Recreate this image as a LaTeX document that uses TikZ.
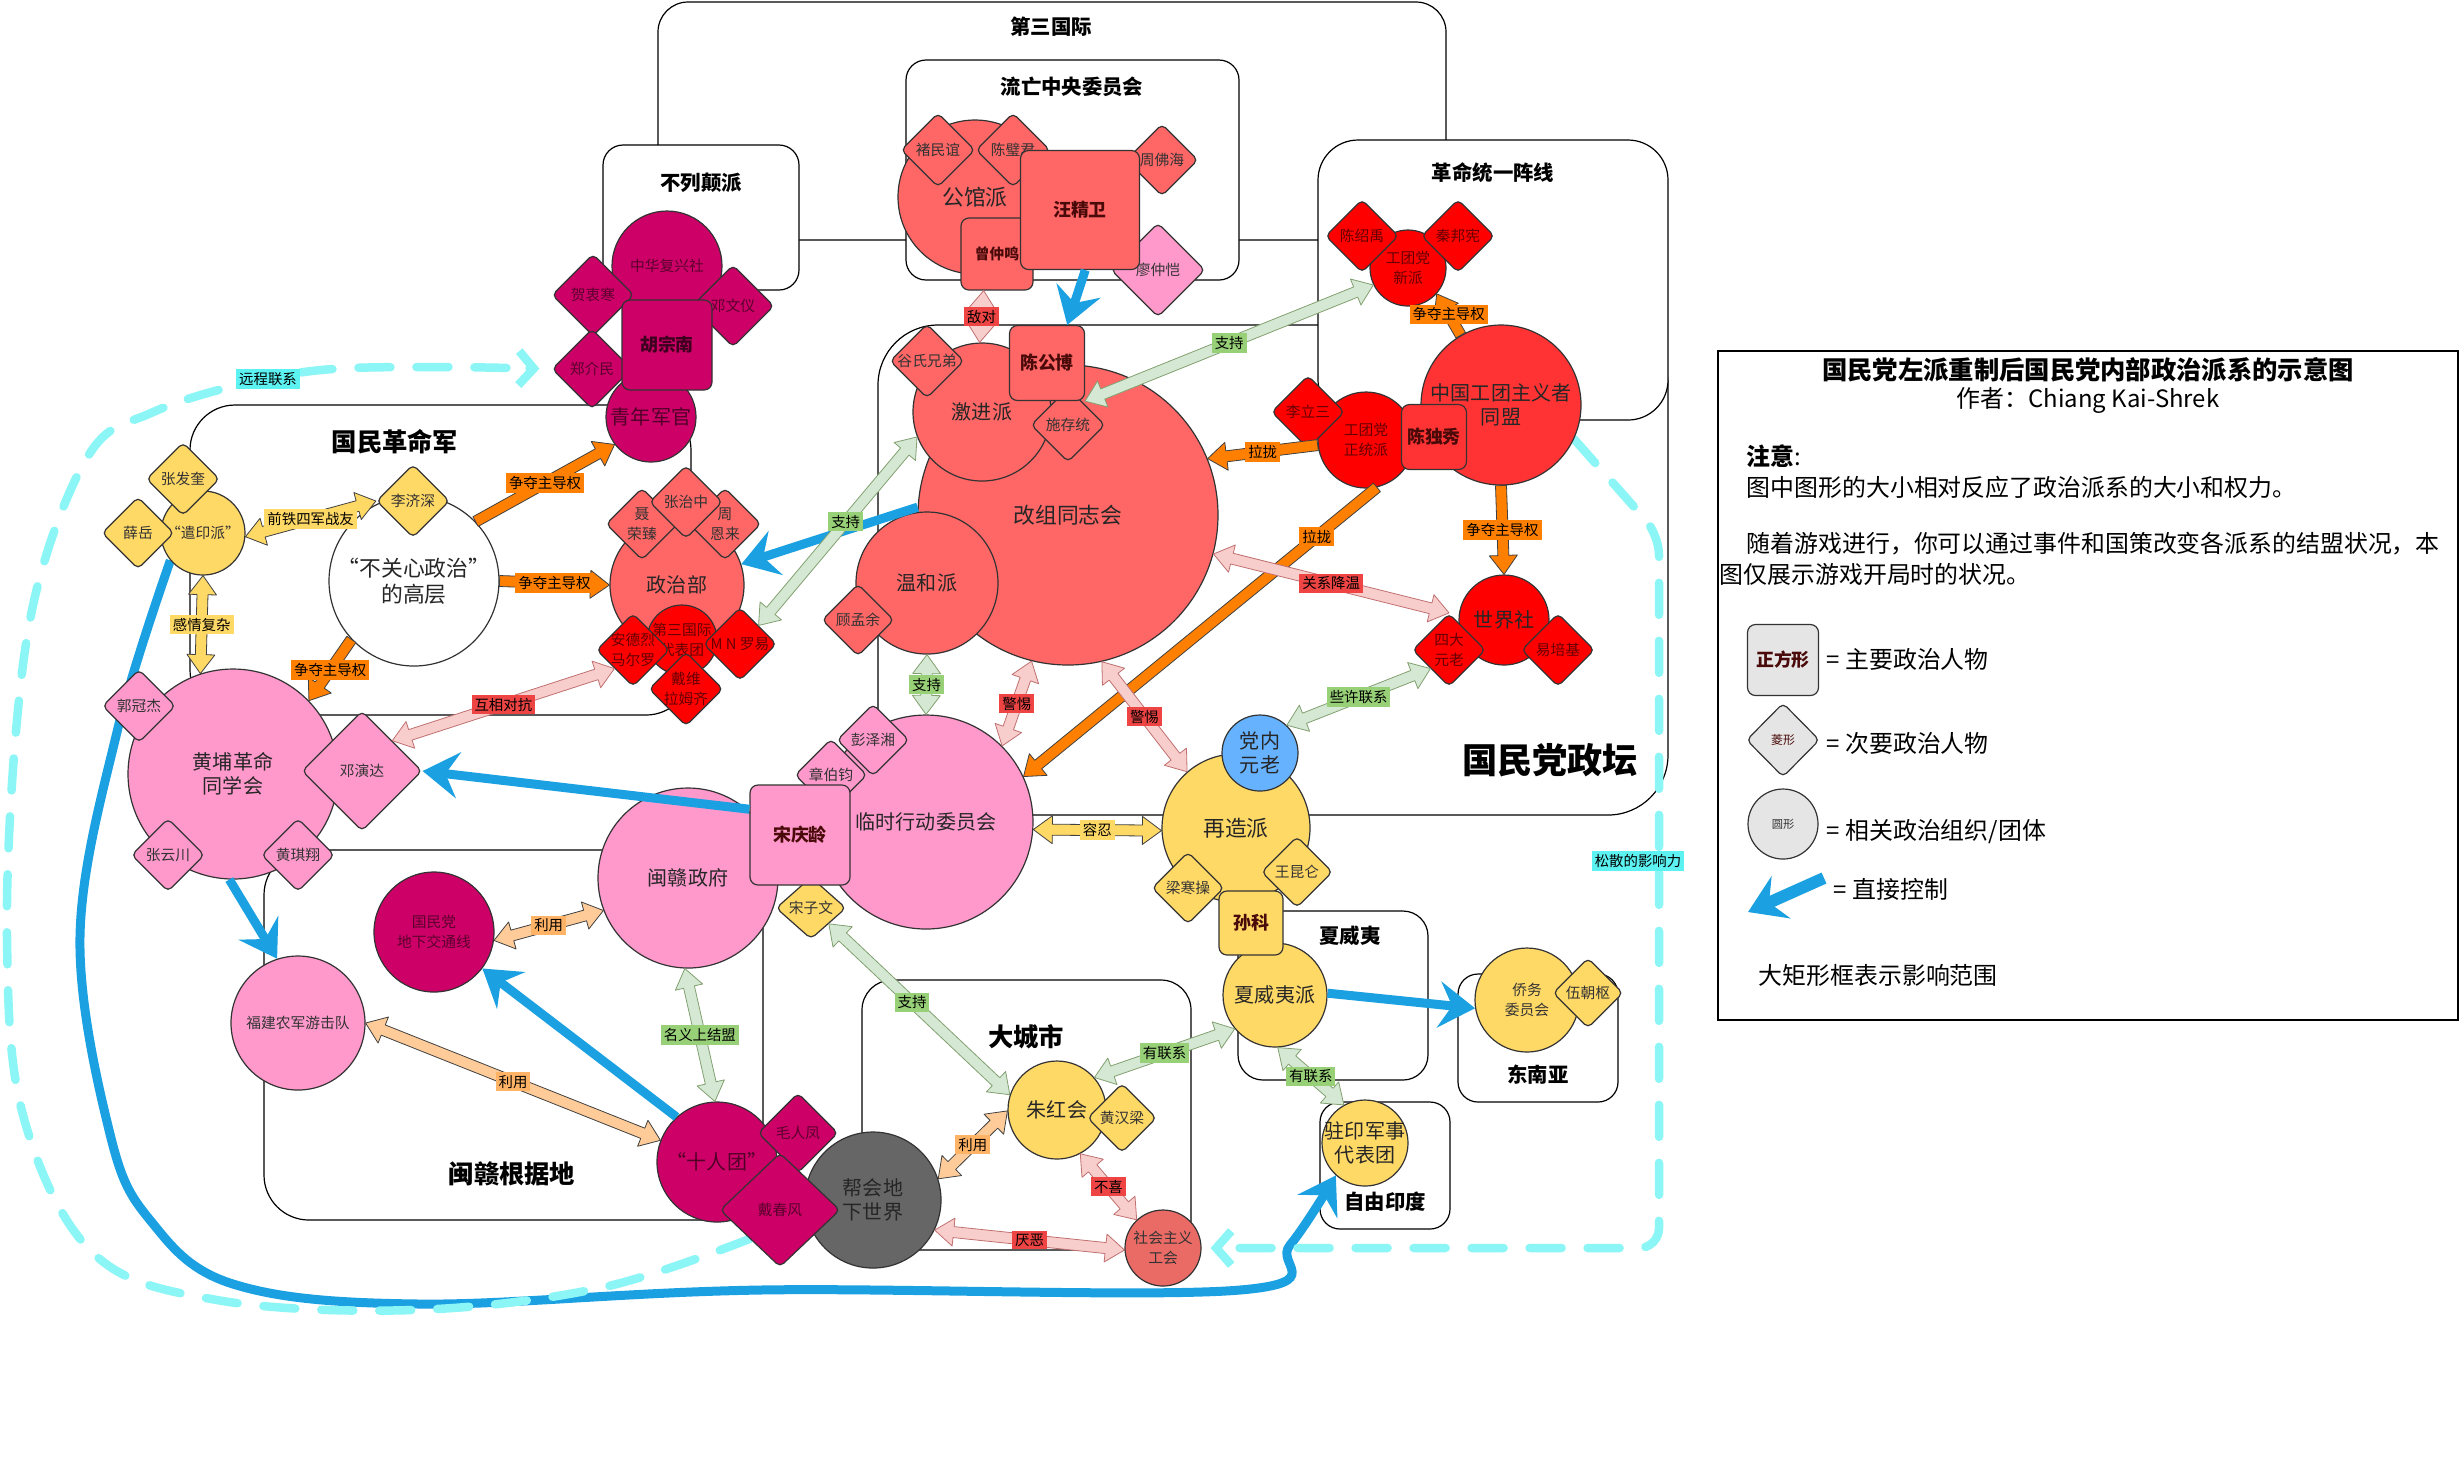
\documentclass[tikz,border=0pt]{standalone}
\usepackage{fontspec}
\setmainfont{Noto Sans CJK SC}
\usetikzlibrary{arrows.meta, calc, shapes.geometric, positioning}
\pgfdeclarelayer{zones}
\pgfdeclarelayer{curves}
\pgfsetlayers{zones,curves,main}

\definecolor{cSal}{HTML}{FF6666}
\definecolor{cRed}{HTML}{FF0000}
\definecolor{cRedB}{HTML}{FF3333}
\definecolor{cPink}{HTML}{FF99CC}
\definecolor{cCrim}{HTML}{CC0066}
\definecolor{cYel}{HTML}{FFD966}
\definecolor{cBlu}{HTML}{66B2FF}
\definecolor{cGry}{HTML}{666666}
\definecolor{cGh}{HTML}{EA6B66}
\definecolor{cDk}{HTML}{4A0A0A}
\definecolor{cCtl}{HTML}{1BA1E2}
\definecolor{cCyanL}{HTML}{8CF6F6}
\definecolor{lbCy}{HTML}{5CF2F2}
\definecolor{aOr}{HTML}{FF8000}
\definecolor{aGr}{HTML}{D5E8D4}
\definecolor{aGrD}{HTML}{82A070}
\definecolor{aPk}{HTML}{F8CECC}
\definecolor{aPkD}{HTML}{C07070}
\definecolor{aLo}{HTML}{FFCC99}
\definecolor{lbGr}{HTML}{97D077}
\definecolor{lbRd}{HTML}{EE4444}
\definecolor{lbLo}{HTML}{FFB366}

\newcommand\fzA{\fontsize{4.2}{5.7}\selectfont}
\newcommand\fzB{\fontsize{5.7}{6.9}\selectfont}
\newcommand\fzC{\fontsize{6.2}{7.4}\selectfont}
\newcommand\fzS{\fontsize{5.1}{6}\selectfont\bfseries}
\newcommand\fzL{\fontsize{4.1}{5}\selectfont}
\newcommand\fzT{\fontsize{5.8}{7}\selectfont\bfseries}
\newcommand\fzTT{\fontsize{7.2}{8.6}\selectfont\bfseries}
\newcommand\fzBig{\fontsize{10}{12}\selectfont\bfseries}
\newcommand\fzG{\fontsize{6.8}{8.5}\selectfont}

% wide hollow arrows
\newcommand\fxw{0.55mm}
\newcommand\fxh{1.4mm}
\newcommand\fxl{1.9mm}
\newcommand\flexab[3]{%
  \path #2 coordinate (fa) #3 coordinate (fb);
  \path ($(fa)!\fxl!(fb)$) coordinate (ca) ($(fb)!\fxl!(fa)$) coordinate (cb);
  \filldraw[#1] (fa) -- ($(ca)!\fxh!90:(fb)$) -- ($(ca)!\fxw!90:(fb)$)
    -- ($(cb)!\fxw!90:(fb)$) -- ($(cb)!\fxh!90:(fb)$) -- (fb)
    -- ($(cb)!\fxh!-90:(fb)$) -- ($(cb)!\fxw!-90:(fb)$)
    -- ($(ca)!\fxw!-90:(fb)$) -- ($(ca)!\fxh!-90:(fb)$) -- cycle;}
\newcommand\flexa[3]{%
  \path #2 coordinate (fa) #3 coordinate (fb);
  \path ($(fb)!\fxl!(fa)$) coordinate (cb);
  \filldraw[#1] ($(fa)!\fxw!90:(fb)$) -- ($(cb)!\fxw!90:(fb)$)
    -- ($(cb)!\fxh!90:(fb)$) -- (fb) -- ($(cb)!\fxh!-90:(fb)$)
    -- ($(cb)!\fxw!-90:(fb)$) -- ($(fa)!\fxw!-90:(fb)$) -- cycle;}

\begin{document}
\begin{tikzpicture}[x=0.1mm, y=-0.1mm,
  zone/.style={draw=black, line width=0.12mm, fill=white, rounded corners=#1},
  nd/.style={draw=black!80, line width=0.12mm, inner sep=0pt},
  org/.style 2 args={nd, circle, minimum size=#1*0.2mm, fill=#2},
  ppl/.style 2 args={nd, diamond, rounded corners=0.5mm, minimum width=#1*0.1mm, minimum height=#1*0.1mm, fill=#2},
  boss/.style 2 args={nd, rectangle, rounded corners=0.8mm, minimum size=#1*0.1mm, fill=#2},
  la/.style={align=center, inner sep=0pt, font=\fzA, text=#1}, la/.default={black!80},
  lb/.style={align=center, inner sep=0pt, font=\fzB, text=#1}, lb/.default={black!85},
  lc/.style={align=center, inner sep=0pt, font=\fzC, text=#1}, lc/.default={black!85},
  lq/.style={align=center, inner sep=0pt, font=\fzS, text=#1}, lq/.default={cDk},
  ttl/.style={font=\fzT},
  lbl/.style={inner sep=0.3mm, font=\fzL, text=black, fill=#1},
  lgx/.style={font=\fzG, anchor=west, inner sep=0pt},
  fo/.style={fill=aOr, draw=black!75, line width=0.08mm, line join=round},
  fg/.style={fill=aGr, draw=aGrD, line width=0.08mm, line join=round},
  fp/.style={fill=aPk, draw=aPkD, line width=0.08mm, line join=round},
  fy/.style={fill=cYel, draw=black!75, line width=0.08mm, line join=round},
  fl/.style={fill=aLo, draw=black!75, line width=0.08mm, line join=round},
  ctl/.style={draw=cCtl, line width=0.9mm, -{Stealth[length=3.6mm,width=4.6mm,inset=1.3mm]}},
  rmt/.style={draw=cCyanL, line width=0.85mm, dash pattern=on 3.2mm off 2.6mm, line cap=round, -{Straight Barb[length=1.5mm,width=3.4mm]}}]

% zones
\begin{pgfonlayer}{zones}
\fill[white] (0,0) rectangle (2460,1478);
\draw[zone=3mm] (658,2) rectangle (1446,240);
\draw[zone=2mm] (603,145) rectangle (799,290);
\draw[zone=2mm] (906,60) rectangle (1239,280);
\draw[zone=6mm] (878,325) rectangle (1668,815);
\draw[zone=4mm] (1318,140) rectangle (1668,420);
\draw[zone=4.5mm] (190,405) rectangle (691,715);
\draw[zone=4.5mm] (264,850) rectangle (763,1220);
\draw[zone=3mm] (862,980) rectangle (1191,1250);
\draw[zone=2.5mm] (1238,911) rectangle (1428,1080);
\draw[zone=2mm] (1458,974) rectangle (1618,1102);
\draw[zone=2mm] (1320,1102) rectangle (1450,1229);
\draw[line width=0.12mm] (1718,351) rectangle (2458,1020);
\end{pgfonlayer}
\useasboundingbox (0,0) rectangle (2460,1478);

\node[ttl] (t3gj) at (1051,27) {第三国际};
\node[ttl] (tlw) at (1072,87) {流亡中央委员会};
\node[ttl] (tbl) at (701,183) {不列颠派};
\node[ttl] (tgm) at (1493,173) {革命统一阵线};
\node[font=\fzTT] (tgmj) at (395,442) {国民革命军};
\node[font=\fzTT] (tmg) at (512,1174) {闽赣根据地};
\node[font=\fzTT] (tdc) at (1026,1037) {大城市};
\node[ttl] (txw) at (1350,936) {夏威夷};
\node[ttl] (tdn) at (1538,1075) {东南亚};
\node[ttl] (tzy) at (1385,1202) {自由印度};
\node[font=\fzBig] (tgd) at (1550,760) {国民党政坛};

% 流亡中央委员会
\node[org={77}{cSal}, label={[lc]center:公馆派}] (gg) at (975,197) {};
\node[ppl={74}{cSal}, label={[la]center:褚民谊}] (cmy) at (938,150) {};
\node[ppl={74}{cSal}, label={[la]center:陈璧君}] (cbj) at (1013,150) {};
\node[ppl={72}{cSal}, label={[la]center:周佛海}] (zfh) at (1162,160) {};
\node[ppl={94}{cPink}, label={[la]center:廖仲恺}] (lzk) at (1158,270) {};
\node[boss={72}{cSal}, label={[la=cDk, font=\fzA\bfseries]center:曾仲鸣}] (zzm) at (997,254) {};
\node[boss={119}{cSal}, label={[lq]center:汪精卫}] (wjw) at (1080,210) {};

% 不列颠派
\node[org={55}{cCrim}, label={[la=cCrim!45!black]center:中华复兴社}] (fx) at (667,266) {};
\node[org={45}{cCrim}, label={[lb=cCrim!40!black]center:青年军官}] (qn) at (651,417) {};
\node[ppl={82}{cCrim}, label={[la=cCrim!45!black]center:贺衷寒}] (hzh) at (593,295) {};
\node[ppl={80}{cCrim}, label={[la=cCrim!45!black]center:郑介民}] (zjm) at (592,369) {};
\node[ppl={82}{cCrim}, label={[la=cCrim!45!black]center:邓文仪}] (dwy) at (733,306) {};
\node[boss={90}{cCrim}, label={[lq=cCrim!30!black]center:胡宗南}] (hzn) at (667,345) {};

% 政治部
\node[org={67}{cSal}, label={[lb]center:政治部}] (zz) at (677,585) {};
\node[ppl={72}{cSal}, label={[la]center:聂\\荣臻}] (nrz) at (642,524) {};
\node[ppl={72}{cSal}, label={[la]center:周\\恩来}] (zel) at (725,524) {};
\node[ppl={73}{cSal}, label={[la]center:张治中}] (zzz) at (686,502) {};
\node[org={35}{cRed}, label={[la=cRed!40!black]center:第三国际\\代表团}] (dsg) at (682,640) {};
\node[ppl={73}{cRed}, label={[la=cRed!40!black]center:安德烈\\马尔罗}] (adl) at (633,650) {};
\node[ppl={73}{cRed}, label={[la=cRed!40!black]center:M N 罗易}] (mny) at (740,644) {};
\node[ppl={74}{cRed}, label={[la=cRed!40!black]center:戴维\\拉姆齐}] (dwl) at (686,689) {};

% 国民革命军
\node[org={42}{cYel}, label={[la]center:“遣印派”}] (qyp) at (203,533) {};
\node[ppl={73}{cYel}, label={[la]center:张发奎}] (zfk) at (183,479) {};
\node[ppl={72}{cYel}, label={[la]center:薛岳}] (xy) at (138,533) {};
\node[org={85}{white}, label={[lc]center:“不关心政治”\\的高层}] (bgx) at (414,581) {};
\node[ppl={73}{cYel}, label={[la]center:李济深}] (ljs) at (413,501) {};

% 黄埔
\node[org={105}{cPink}, label={[lb]center:黄埔革命\\同学会}] (hp) at (233,774) {};
\node[ppl={73}{cPink}, label={[la]center:郭冠杰}] (ggj) at (139,706) {};
\node[ppl={120}{cPink}, label={[la]center:邓演达}] (dyd) at (362,771) {};
\node[ppl={73}{cPink}, label={[la]center:张云川}] (zyc) at (168,855) {};
\node[ppl={73}{cPink}, label={[la]center:黄琪翔}] (hqx) at (298,855) {};

% 闽赣
\node[org={67}{cPink}, label={[la]center:福建农军游击队}] (fj) at (298,1023) {};
\node[org={60}{cCrim}, label={[la=cCrim!45!black]center:国民党\\地下交通线}] (dx) at (434,932) {};
\node[org={90}{cPink}, label={[lb]center:闽赣政府}] (mg) at (688,878) {};
\node[org={107}{cPink}, label={[lb]center:临时行动委员会}] (lsh) at (926,822) {};
\node[ppl={72}{cPink}, label={[la]center:彭泽湘}] (pzx) at (873,740) {};
\node[ppl={72}{cPink}, label={[la]center:章伯钧}] (zbj) at (831,775) {};
\node[ppl={70}{cYel}, minimum height=6.2mm, label={[la]center:宋子文}] (szw) at (811,908) {};
\node[boss={100}{cPink}, label={[lq]center:宋庆龄}] (sql) at (800,835) {};
\node[org={60}{cCrim}, label={[lb=cCrim!40!black]center:“十人团”}] (srt) at (717,1162) {};
\node[org={68}{cGry}, label={[lb]center:帮会地\\下世界}] (bh) at (873,1200) {};
\node[ppl={80}{cCrim}, label={[la=cCrim!45!black]center:毛人凤}] (mrf) at (798,1133) {};
\node[ppl={120}{cCrim}, minimum height=11.4mm, label={[la=cCrim!45!black]center:戴春风}] (dcf) at (780,1210) {};

% 改组同志会
\node[org={150}{cSal}, label={[lc]center:改组同志会}] (gz) at (1068,515) {};
\node[org={69}{cSal}, label={[lb]center:激进派}] (jj) at (982,412) {};
\node[org={71}{cSal}, label={[lb]center:温和派}] (wh) at (927,583) {};
\node[ppl={74}{cSal}, label={[la]center:谷氏兄弟}] (gsx) at (927,361) {};
\node[ppl={74}{cSal}, label={[la]center:施存统}] (scs) at (1068,425) {};
\node[boss={75}{cSal}, label={[lq]center:陈公博}] (cgb) at (1047,363) {};
\node[ppl={72}{cSal}, label={[la]center:顾孟余}] (gmy) at (858,620) {};

% 革命统一阵线
\node[org={80}{cRedB}, label={[lb]center:中国工团主义者\\同盟}] (tm) at (1501,405) {};
\node[org={38}{cRed}, label={[la=cRed!40!black]center:工团党\\新派}] (xp) at (1408,268) {};
\node[ppl={73}{cRed}, label={[la=cRed!40!black]center:陈绍禹}] (csy) at (1362,236) {};
\node[ppl={73}{cRed}, label={[la=cRed!40!black]center:秦邦宪}] (qbx) at (1458,236) {};
\node[org={48}{cRed}, label={[la=cRed!40!black]center:工团党\\正统派}] (zt) at (1366,440) {};
\node[ppl={73}{cRed}, label={[la=cRed!40!black]center:李立三}] (lls) at (1308,412) {};
\node[boss={65}{cRedB}, label={[lq]center:陈独秀}] (cdx) at (1434,437) {};
\node[org={45}{cRed}, label={[lb]center:世界社}] (sjs) at (1504,620) {};
\node[ppl={73}{cRed}, label={[la=cRed!40!black]center:四大\\元老}] (sdyl) at (1449,650) {};
\node[ppl={73}{cRed}, label={[la=cRed!40!black]center:易培基}] (ypj) at (1558,650) {};

% 再造派
\node[org={74}{cYel}, label={[lc]center:再造派}] (zzp) at (1236,828) {};
\node[org={38}{cBlu}, label={[lb]center:党内\\元老}] (dnyl) at (1260,753) {};
\node[org={52}{cYel}, label={[lb]center:夏威夷派}] (xwy) at (1275,995) {};
\node[ppl={72}{cYel}, label={[la]center:梁寒操}] (lhc) at (1188,888) {};
\node[ppl={71}{cYel}, label={[la]center:王昆仑}] (wkl) at (1297,872) {};
\node[boss={64}{cYel}, label={[lq]center:孙科}] (sk) at (1251,923) {};
\node[org={43}{cYel}, label={[lb]center:驻印军事\\代表团}] (zy) at (1365,1143) {};
\node[org={52}{cYel}, label={[la]center:侨务\\委员会}] (qw) at (1527,1000) {};
\node[ppl={70}{cYel}, label={[la]center:伍朝枢}] (wcs) at (1588,993) {};
\node[org={49}{cYel}, label={[lb]center:朱红会}] (zh) at (1057,1110) {};
\node[ppl={69}{cYel}, label={[la]center:黄汉梁}] (hhl) at (1122,1118) {};
\node[org={38}{cGh}, label={[la]center:社会主义\\工会}] (gh) at (1163,1248) {};

% long curves, kept under the nodes
\begin{pgfonlayer}{curves}
\draw[ctl] plot[smooth, tension=0.6] coordinates {(qyp.220) (117,732) (80,937) (110,1134) (150,1220) (233,1284) (420,1304) (760,1290) (1240,1290) (1290,1245) (zy.228)};
\draw[rmt, shorten >=1.2mm] plot[smooth, tension=0.6] coordinates {(dcf.south west) (600,1288) (413,1310) (217,1300) (93,1253) (23,1115) (7,937) (17,720) (41,573) (92,450) (151,413) (230,387) (321,370) (436,367) (zjm.west)};
\draw[rmt, rounded corners=2mm, shorten >=0.9mm] (tm.335) -- (1659,535) |- (gh.0);
\end{pgfonlayer}
\node[lbl=lbCy] (lyc) at (268,379) {远程联系};
\node[lbl=lbCy] (lsl) at (1638,861) {松散的影响力};

% direct control
\draw[ctl] (wjw.275) -- (cgb.62);
\draw[ctl] (gz.177) -- (zz.18);
\draw[ctl] (sql.153) -- (dyd.east);
\draw[ctl] (hp.268) -- (fj.108);
\draw[ctl] (srt.132) -- (dx.323);
\draw[ctl] (xwy.2) -- (qw.189);

% relations
\flexab{fp}{(zzm.250)}{(jj.92)}
\node[lbl=lbRd] (l01) at ($(fa)!.5!(fb)$) {敌对};
\flexab{fg}{(xp.206)}{(cgb.south east)}
\node[lbl=lbGr] (l02) at ($(fa)!.5!(fb)$) {支持};
\flexa{fo}{(zt.186)}{(gz.22)}
\node[lbl=aOr] (l03) at ($(fa)!.5!(fb)$) {拉拢};
\flexa{fo}{(zt.283)}{(lsh.25)}
\node[lbl=aOr] (l04) at ($(fa)!.17!(fb)$) {拉拢};
\flexab{fp}{(gz.345)}{(sdyl.north)}
\node[lbl=lbRd] (l05) at ($(fa)!.5!(fb)$) {关系降温};
\flexab{fp}{(gz.256)}{(lsh.45)}
\node[lbl=lbRd] (l06) at ($(fa)!.5!(fb)$) {警惕};
\flexab{fp}{(gz.283)}{(zzp.131)}
\node[lbl=lbRd] (l07) at ($(fa)!.5!(fb)$) {警惕};
\flexab{fg}{(wh.270)}{(lsh.90)}
\node[lbl=lbGr] (l08) at ($(fa)!.5!(fb)$) {支持};
\flexab{fg}{(jj.201)}{(mny.north east)}
\node[lbl=lbGr] (l09) at ($(fa)!.45!(fb)$) {支持};
\flexab{fg}{(dnyl.46)}{(sdyl.south west)}
\node[lbl=lbGr] (l10) at ($(fa)!.5!(fb)$) {些许联系};
\flexa{fo}{(tm.120)}{(xp.318)}
\node[lbl=aOr] (l11) at ($(fa)!.5!(fb)$) {争夺主导权};
\flexa{fo}{(tm.270)}{(sjs.90)}
\node[lbl=aOr] (l12) at ($(fa)!.5!(fb)$) {争夺主导权};
\flexa{fo}{(bgx.44)}{(qn.217)}
\node[lbl=aOr] (l13) at ($(fa)!.5!(fb)$) {争夺主导权};
\flexa{fo}{(bgx.0)}{(zz.180)}
\node[lbl=aOr] (l14) at ($(fa)!.5!(fb)$) {争夺主导权};
\flexa{fo}{(bgx.223)}{(hp.44)}
\node[lbl=aOr] (l15) at ($(fa)!.5!(fb)$) {争夺主导权};
\flexab{fy}{(qyp.355)}{(ljs.west)}
\node[lbl=cYel] (l16) at ($(fa)!.5!(fb)$) {前铁四军战友};
\flexab{fy}{(qyp.270)}{(hp.108)}
\node[lbl=cYel] (l17) at ($(fa)!.5!(fb)$) {感情复杂};
\flexab{fp}{(dyd.north east)}{(adl.south west)}
\node[lbl=lbRd] (l18) at ($(fa)!.5!(fb)$) {互相对抗};
\flexab{fl}{(dx.352)}{(mg.201)}
\node[lbl=lbLo] (l19) at ($(fa)!.5!(fb)$) {利用};
\flexab{fl}{(fj.0)}{(srt.159)}
\node[lbl=lbLo] (l20) at ($(fa)!.5!(fb)$) {利用};
\flexab{fg}{(mg.268)}{(srt.92)}
\node[lbl=lbGr] (l21) at ($(fa)!.5!(fb)$) {名义上结盟};
\flexab{fy}{(lsh.356)}{(zzp.182)}
\node[lbl=cYel] (l22) at ($(fa)!.5!(fb)$) {容忍};
\flexab{fg}{(szw.south east)}{(zh.162)}
\node[lbl=lbGr] (l23) at ($(fa)!.46!(fb)$) {支持};
\flexab{fg}{(zh.41)}{(xwy.220)}
\node[lbl=lbGr] (l24) at ($(fa)!.5!(fb)$) {有联系};
\flexab{fg}{(xwy.273)}{(zy.119)}
\node[lbl=lbGr] (l25) at ($(fa)!.5!(fb)$) {有联系};
\flexab{fl}{(bh.18)}{(zh.181)}
\node[lbl=lbLo] (l26) at ($(fa)!.5!(fb)$) {利用};
\flexab{fp}{(zh.298)}{(gh.133)}
\node[lbl=lbRd] (l27) at ($(fa)!.5!(fb)$) {不喜};
\flexab{fp}{(bh.334)}{(gh.183)}
\node[lbl=lbRd] (l28) at ($(fa)!.5!(fb)$) {厌恶};

% legend
\node[font=\fontsize{7.2}{8.5}\selectfont\bfseries] (lgt) at (2088,370) {国民党左派重制后国民党内部政治派系的示意图};
\node[font=\fzG] (lgau) at (2088,400) {作者：Chiang Kai-Shrek};
\node[lgx] (lgn) at (1746,456) {\textbf{注意}:};
\node[lgx] (lg1) at (1746,487) {图中图形的大小相对反应了政治派系的大小和权力。};
\node[lgx] (lg2) at (1746,544) {随着游戏进行，你可以通过事件和国策改变各派系的结盟状况，本};
\node[lgx] (lg3) at (1719,574) {图仅展示游戏开局时的状况。};
\node[nd, rectangle, rounded corners=0.8mm, minimum width=7.1mm, minimum height=7.1mm, fill=black!10, label={[lq]center:正方形}] (lgs) at (1783,660) {};
\node[nd, diamond, rounded corners=0.5mm, minimum width=7.3mm, minimum height=7.4mm, fill=black!10, label={[la=cDk, font=\fontsize{3.4}{4}\selectfont]center:菱形}] (lgd) at (1783,740) {};
\node[org={35}{black!10}, label={[la, font=\fontsize{3.2}{4}\selectfont]center:圆形}] (lgc) at (1783,824) {};
\coordinate (lga) at (1824,878);
\coordinate (lgb) at (1748,912);
\draw[ctl, line width=1.2mm] (lga) -- (lgb);
\node[lgx] (lk1) at (1826,659) {= 主要政治人物};
\node[lgx] (lk2) at (1826,743) {= 次要政治人物};
\node[lgx] (lk3) at (1826,832) {= 相关政治组织/团体};
\node[lgx] (lk4) at (1833,889) {= 直接控制};
\node[lgx] (lk5) at (1758,975) {大矩形框表示影响范围};
\end{tikzpicture}
\end{document}
